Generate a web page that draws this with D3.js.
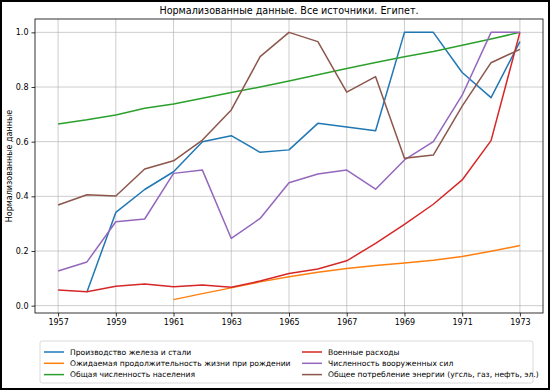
<!DOCTYPE html>
<html>
<head>
<meta charset="utf-8">
<script src="https://cdn.jsdelivr.net/npm/d3@7"></script>
<style>
  body { margin: 0; background: #fff; }
  svg { display: block; font-family: "DejaVu Sans", sans-serif; }
</style>
</head>
<body>
<svg id="chart" width="550" height="390"></svg>
<script>

/* ── data (normalised) ── */
const years = d3.range(1957, 1974);

const steel   = [null, 0.05, 0.341, 0.425, 0.49, 0.60, 0.622, 0.561, 0.57, 0.667, 0.654, 0.64, 1.0, 1.0, 0.853, 0.761, 0.966];
const lifeExp = [null, null, null, null, 0.022, 0.044, 0.065, 0.087, 0.106, 0.122, 0.136, 0.147, 0.156, 0.166, 0.18, 0.199, 0.22];
const popul   = [0.665, 0.68, 0.698, 0.722, 0.738, 0.759, 0.78, 0.80, 0.822, 0.845, 0.868, 0.89, 0.911, 0.93, 0.953, 0.976, 1.0];
const milex   = [0.057, 0.051, 0.071, 0.079, 0.069, 0.076, 0.067, 0.09, 0.118, 0.134, 0.164, 0.228, 0.297, 0.371, 0.46, 0.604, 1.0];
const army    = [0.127, 0.16, 0.307, 0.317, 0.484, 0.496, 0.246, 0.319, 0.45, 0.482, 0.496, 0.426, 0.533, 0.6, 0.77, 1.0, 1.0];
const energy  = [0.368, 0.406, 0.401, 0.5, 0.53, 0.606, 0.716, 0.911, 1.0, 0.966, 0.781, 0.838, 0.539, 0.551, 0.73, 0.889, 0.938];

const seriesNames = [
  'Производство железа и стали',
  'Ожидаемая продолжительность жизни при рождении',
  'Общая численность населения',
  'Военные расходы',
  'Численность вооруженных сил',
  'Общее потребление энергии (угсль, газ, нефть, эл.)'
];
const seriesValues = [steel, lifeExp, popul, milex, army, energy];
const colors = ['#1f77b4', '#ff7f0e', '#2ca02c', '#d62728', '#9467bd', '#8c564b'];

const xTicks = d3.range(1957, 1974, 2);
const yTicks = [0, 0.2, 0.4, 0.6, 0.8, 1.0];

/* ── layout ── */
const svg = d3.select('#chart');
const W = 550, H = 390;
const plot = { left: 35, right: 543, top: 19, bottom: 313 };

svg.append('rect')
  .attr('x', 1).attr('y', 1).attr('width', W - 2).attr('height', H - 2)
  .attr('fill', '#fff').attr('stroke', '#000').attr('stroke-width', 2);

/* matplotlib-like 5% margins around data */
const allVals = seriesValues.flat().filter(v => v != null);
const yMin = d3.min(allVals), yMax = d3.max(allVals);
const yPad = (yMax - yMin) * 0.05;

const xScale = d3.scaleLinear()
  .domain([1957 - 0.8, 1973 + 0.8])
  .range([plot.left, plot.right]);

const yScale = d3.scaleLinear()
  .domain([yMin - yPad, yMax + yPad])
  .range([plot.bottom, plot.top]);

/* ── grid ── */
const grid = svg.append('g').attr('class', 'grid');
grid.selectAll('line.gx')
  .data(xTicks)
  .join('line')
  .attr('class', 'gx')
  .attr('x1', d => xScale(d)).attr('x2', d => xScale(d))
  .attr('y1', plot.top).attr('y2', plot.bottom)
  .attr('stroke', '#b0b0b0').attr('stroke-opacity', 0.8).attr('stroke-width', 0.8);
grid.selectAll('line.gy')
  .data(yTicks)
  .join('line')
  .attr('class', 'gy')
  .attr('x1', plot.left).attr('x2', plot.right)
  .attr('y1', d => yScale(d)).attr('y2', d => yScale(d))
  .attr('stroke', '#b0b0b0').attr('stroke-opacity', 0.8).attr('stroke-width', 0.8);

/* ── lines ── */
const lineGen = d3.line()
  .defined(d => d.v != null)
  .x(d => xScale(d.year))
  .y(d => yScale(d.v));

svg.append('g').selectAll('path.series')
  .data(seriesValues.map((vals, i) => ({ i, pts: years.map((y, k) => ({ year: y, v: vals[k] })) })))
  .join('path')
  .attr('class', 'series')
  .attr('d', d => lineGen(d.pts))
  .attr('fill', 'none')
  .attr('stroke', d => colors[d.i])
  .attr('stroke-width', 1.5)
  .attr('stroke-linejoin', 'round');

/* ── frame + axes ── */
svg.append('rect')
  .attr('x', plot.left).attr('y', plot.top)
  .attr('width', plot.right - plot.left).attr('height', plot.bottom - plot.top)
  .attr('fill', 'none').attr('stroke', '#000').attr('stroke-width', 0.8);

const xAxis = svg.append('g')
  .attr('transform', `translate(0,${plot.bottom})`)
  .call(d3.axisBottom(xScale).tickValues(xTicks).tickFormat(d3.format('d')).tickSizeOuter(0).tickSize(3.5).tickPadding(3));
const yAxis = svg.append('g')
  .attr('transform', `translate(${plot.left},0)`)
  .call(d3.axisLeft(yScale).tickValues(yTicks).tickFormat(d3.format('.1f')).tickSizeOuter(0).tickSize(3.5).tickPadding(3));

[xAxis, yAxis].forEach(ax => {
  ax.select('.domain').remove();
  ax.selectAll('line').attr('stroke', '#000').attr('stroke-width', 0.8);
  ax.selectAll('text')
    .attr('fill', '#000')
    .style('font-family', '"DejaVu Sans", sans-serif')
    .style('font-size', '8px');
});

/* ── title + y label ── */
svg.append('text')
  .attr('x', (plot.left + plot.right) / 2).attr('y', 14)
  .attr('text-anchor', 'middle')
  .style('font-size', '9.6px')
  .text('Нормализованные данные. Все источники. Египет.');

svg.append('text')
  .attr('transform', `translate(12,${(plot.top + plot.bottom) / 2}) rotate(-90)`)
  .attr('text-anchor', 'middle')
  .style('font-size', '8px')
  .text('Нормализованные данные');

/* ── legend (2 columns) ── */
const legend = svg.append('g');
legend.append('rect')
  .attr('x', 40).attr('y', 341).attr('width', 493).attr('height', 42)
  .attr('rx', 2)
  .attr('fill', '#fff').attr('stroke', '#d0d0d0').attr('stroke-width', 0.8);

const items = legend.selectAll('g.item')
  .data(seriesNames.map((name, i) => ({ name, i })))
  .join('g')
  .attr('class', 'item')
  .attr('transform', d => {
    const col = Math.floor(d.i / 3), row = d.i % 3;
    return `translate(${col === 0 ? 44 : 302},${352 + row * 11.3})`;
  });

items.append('line')
  .attr('x1', 0).attr('x2', 20)
  .attr('stroke', d => colors[d.i]).attr('stroke-width', 1.5);
items.append('text')
  .attr('x', 26).attr('y', 2.8)
  .style('font-size', '7.6px')
  .text(d => d.name);

</script>
</body>
</html>
